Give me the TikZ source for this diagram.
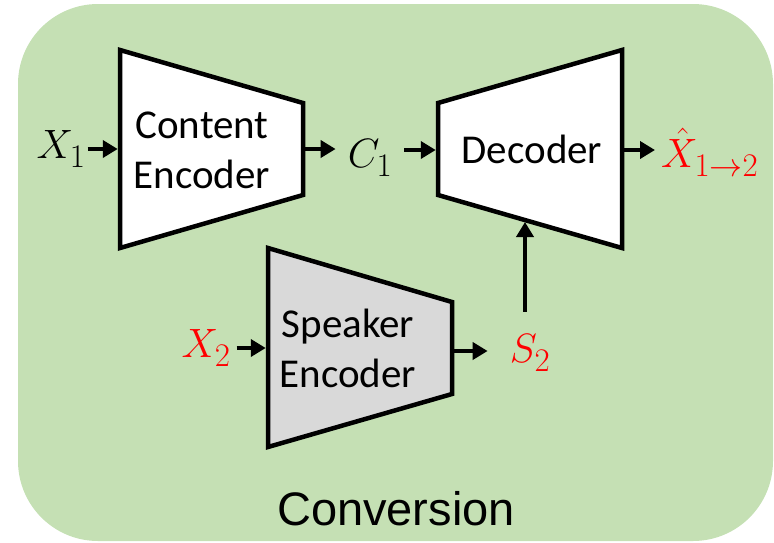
\RequirePackage{fix-cm}
\documentclass[tikz,border=0pt]{standalone}
\usepackage[no-math]{fontspec}
\setmainfont{Carlito}
\newfontfamily\convfont{Liberation Sans}
\DeclareMathSizes{41}{41}{33}{25}
\usetikzlibrary{arrows.meta}
\definecolor{bggreen}{HTML}{C5E0B4}
\definecolor{encgray}{HTML}{D9D9D9}
\definecolor{lblred}{HTML}{FF0000}
\begin{document}
\begin{tikzpicture}[x=1pt,y=-1pt,
  blk/.style={draw=black, line width=4.5pt, line join=miter},
  conn/.style={line width=4.5pt, -{Triangle[length=15pt,width=17pt]}},
  boxtext/.style={font=\fontsize{41}{50}\selectfont, align=center, inner sep=0pt},
  mlabel/.style={font=\fontsize{41}{41}\selectfont, inner sep=0pt}]
\useasboundingbox (0,0) rectangle (774,542);
\fill[bggreen, rounded corners=80pt] (18,4) rectangle (773,541);

% trapezoids
\draw[blk, fill=white] (120,50) -- (303,103) -- (303,195) -- (120,248) -- cycle;
\draw[blk, fill=white] (438,103) -- (622,50) -- (622,248) -- (438,195) -- cycle;
\draw[blk, fill=encgray] (268,248) -- (452,302) -- (452,394) -- (268,447) -- cycle;

% connection points
\coordinate (cein) at (117.75,149);
\coordinate (ceout) at (303,149);
\coordinate (decin) at (435.75,150);
\coordinate (decout) at (622,150);
\coordinate (decbot) at (525,222);
\coordinate (sein) at (265.75,348);
\coordinate (seout) at (452,351);

% box texts
\node[boxtext] (cetext) at (202,150) {Content\\Encoder};
\node[boxtext, anchor=base] (dectext) at (532,163) {Decoder};
\node[boxtext] (setext) at (348,348) {Speaker\\Encoder};

% labels
\node[mlabel, anchor=base] (X1) at (61,158) {$X_{\raisebox{-3pt}{$\scriptstyle 1$}}$};
\node[mlabel, anchor=base] (C1) at (370,167) {$C_{\raisebox{-3pt}{$\scriptstyle 1$}}$};
\node[mlabel, anchor=base west, text=lblred] (Xh) at (661,167) {$\hat{X}_{\raisebox{-3pt}{$\scriptstyle 1\to 2$}}$};
\node[mlabel, anchor=base, text=lblred] (X2) at (206,357) {$X_{\raisebox{-3pt}{$\scriptstyle 2$}}$};
\node[mlabel, anchor=base, text=lblred] (S2) at (530,362) {$S_{\raisebox{-3pt}{$\scriptstyle 2$}}$};

\node[inner sep=0pt, anchor=base, font=\convfont\fontsize{47}{47}\selectfont] (conv) at (396,525) {Conversion};

% connectors
\draw[conn, shorten <=2pt] (X1.east |- cein) -- (cein);
\draw[conn, shorten >=12pt] (ceout) -- (ceout -| C1.west);
\draw[conn, shorten <=12pt] (C1.east |- decin) -- (decin);
\draw[conn, shorten >=6pt] (decout) -- (decout -| Xh.west);
\draw[conn, shorten <=6pt] (X2.east |- sein) -- (sein);
\draw[conn, shorten >=22pt] (seout) -- (seout -| S2.west);
\draw[conn, shorten <=22pt] (S2.north -| decbot) -- (decbot);
\end{tikzpicture}
\end{document}
